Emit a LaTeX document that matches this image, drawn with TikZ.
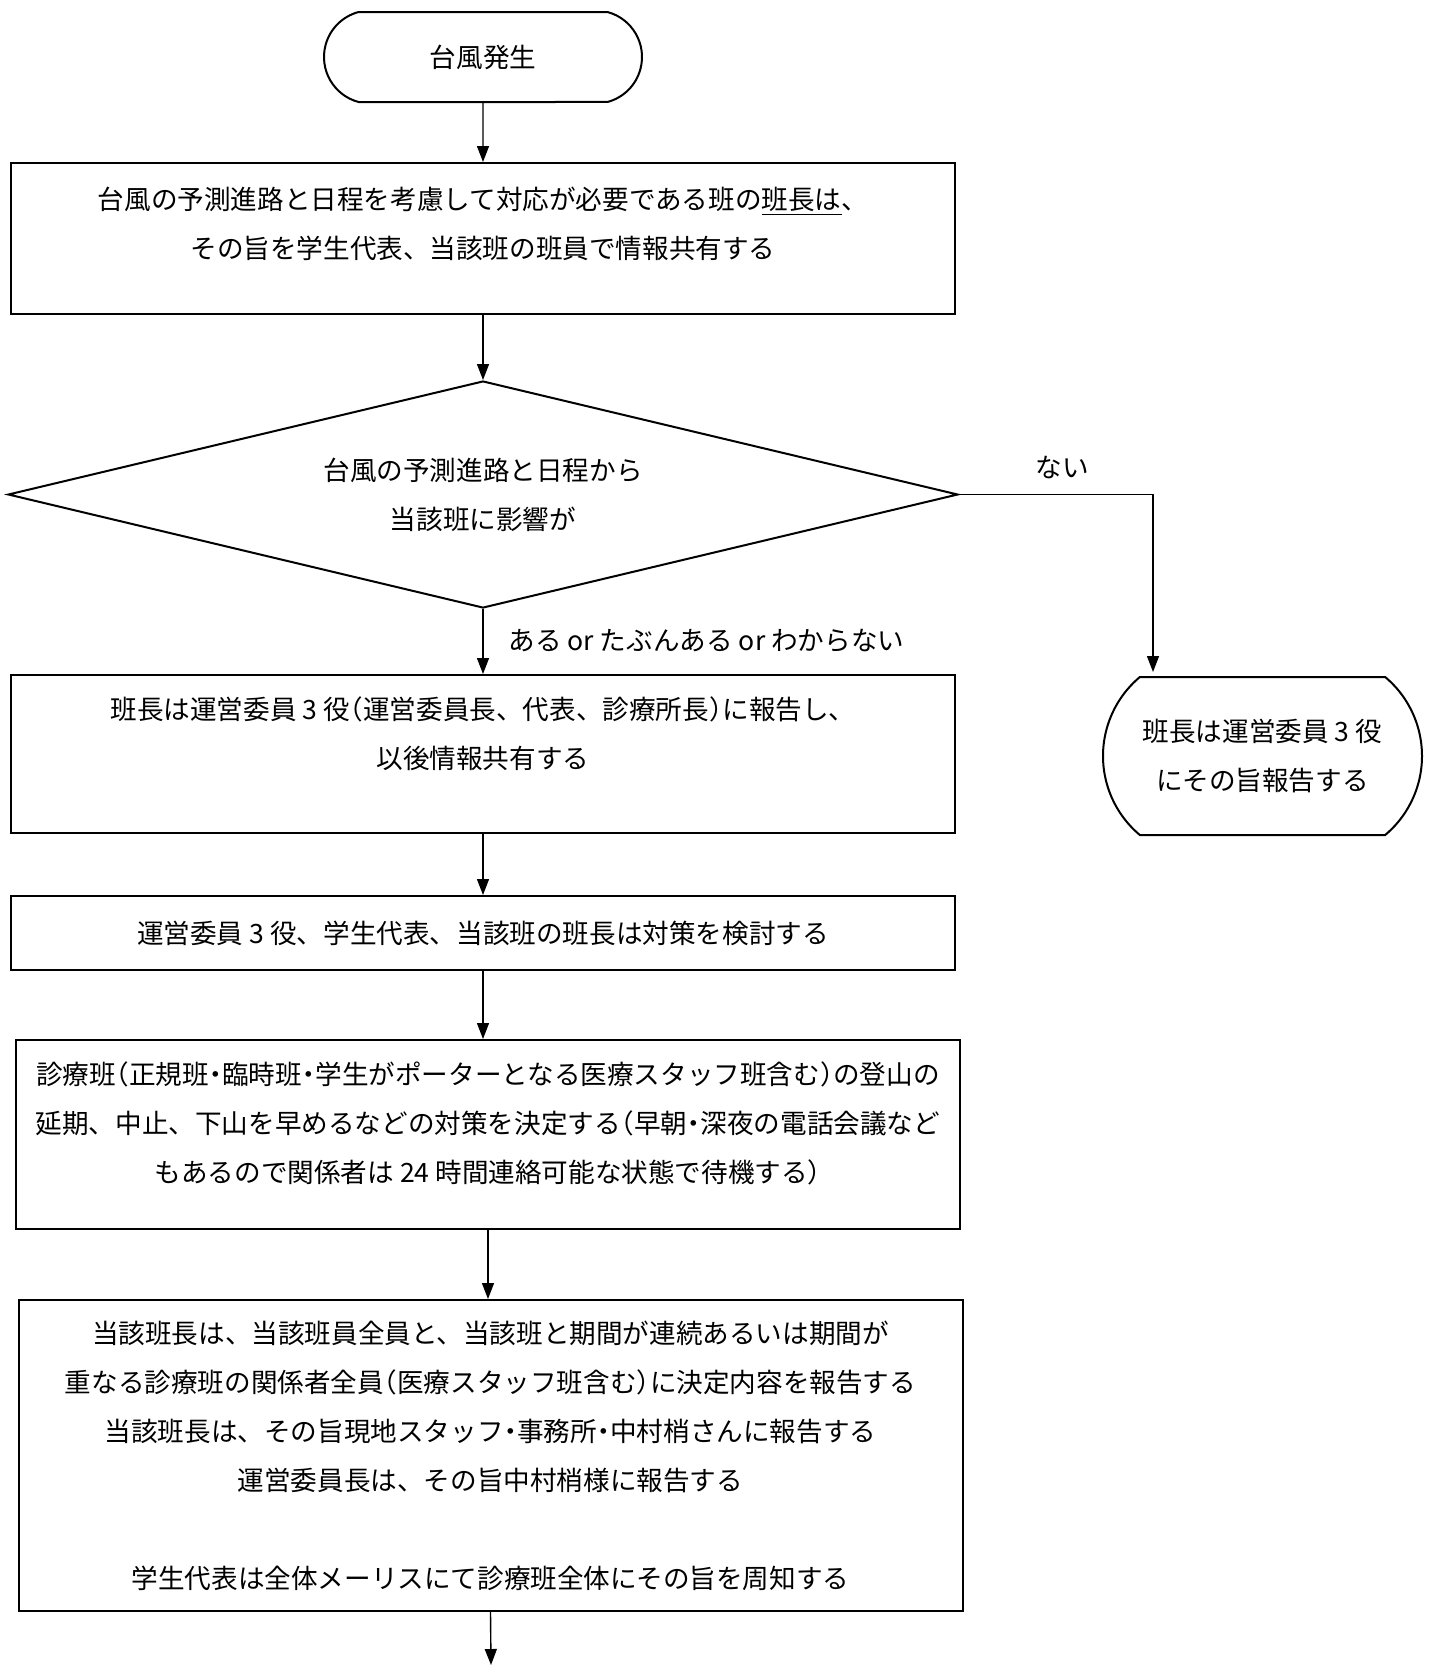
\documentclass[tikz,border=0pt]{standalone}
\usepackage{fontspec}
\setmainfont{Noto Sans CJK JP}
\newfontfamily\halfpunct[RawFeature=+halt]{Noto Sans CJK JP}
\newcommand{\hw}[1]{{\halfpunct#1}}
\usetikzlibrary{shapes.geometric,shapes.misc,arrows.meta}

\begin{document}
\begin{tikzpicture}[
  x=0.5pt, y=-0.5pt,
  every node/.style={font=\fontsize{13.3pt}{24.5pt}\selectfont},
  box/.style={rectangle, draw, line width=1pt, minimum width=472pt, inner sep=0pt},
  term/.style={rounded rectangle, draw, line width=1pt, inner sep=0pt, align=center},
  txt/.style={align=center, inner sep=0pt},
  arrow/.style={-{Triangle[length=8pt,width=6pt]}, line width=0.7pt}
]
  \useasboundingbox (0,0) rectangle (1430,1666);

  % start and decision
  \node[term, minimum width=159pt, minimum height=45pt, rounded rectangle arc length=150] (start) at (483,57) {台風発生};
  \node[box, minimum height=75.5pt] (inform) at (483,238.5) {};
  \node[txt] (informtext) at (483,224) {台風の予測進路と日程を考慮して対応が必要である班の\underline{班長は}、\\その旨を学生代表、当該班の班員で情報共有する};
  \node[diamond, draw, line width=1pt, aspect=4.2, minimum width=475pt, minimum height=113.5pt, inner sep=0pt, align=center] (check) at (483,494.5) {台風の予測進路と日程から\\当該班に影響が};

  % branch: no effect
  \node[txt] (nolabel) at (1062,468) {ない};
  \node[term, minimum width=159.5pt, minimum height=79pt, rounded rectangle arc length=100] (noreport) at (1262.5,756) {班長は運営委員 3 役\\にその旨報告する};
  \coordinate (noend) at (1153,672);

  % branch: effect
  \node[txt, anchor=west] (yeslabel) at (508,641) {ある or たぶんある or わからない};
  \node[box, minimum height=79pt] (report) at (483,754) {};
  \node[txt] (reporttext) at (483,734) {班長は運営委員 3 役\hw{（}運営委員長、代表、診療所長\hw{）}に報告し、\\以後情報共有する};
  \node[box, minimum height=37pt] (discuss) at (483,933) {運営委員 3 役、学生代表、当該班の班長は対策を検討する};
  \node[box, minimum height=94.5pt] (decide) at (488,1134.5) {};
  \node[txt] (decidetext) at (488,1123) {診療班\hw{（}正規班\hw{・}臨時班\hw{・}学生がポーターとなる医療スタッフ班含む\hw{）}の登山の\\延期、中止、下山を早めるなどの対策を決定する\hw{（}早朝\hw{・}深夜の電話会議など\\もあるので関係者は 24 時間連絡可能な状態で待機する\hw{）}};
  \node[box, minimum height=155.5pt, align=center] (notify) at (490.5,1455.5) {当該班長は、当該班員全員と、当該班と期間が連続あるいは期間が\\重なる診療班の関係者全員\hw{（}医療スタッフ班含む\hw{）}に決定内容を報告する\\当該班長は、その旨現地スタッフ\hw{・}事務所\hw{・}中村梢さんに報告する\\運営委員長は、その旨中村梢様に報告する\\[24.5pt]学生代表は全体メーリスにて診療班全体にその旨を周知する};
  \coordinate (next) at (491,1665);

  \draw[arrow] (start) -- (inform);
  \draw[arrow] (inform) -- (check);
  \draw[arrow] (check.south) -- (report.north);
  \draw[arrow] (check.east) -| (noend);
  \draw[arrow] (report) -- (discuss);
  \draw[arrow] (discuss.south) -- (discuss.south |- decide.north);
  \draw[arrow] (decide.south) -- (decide.south |- notify.north);
  \draw[arrow] (notify.south) -- (next);
\end{tikzpicture}
\end{document}
